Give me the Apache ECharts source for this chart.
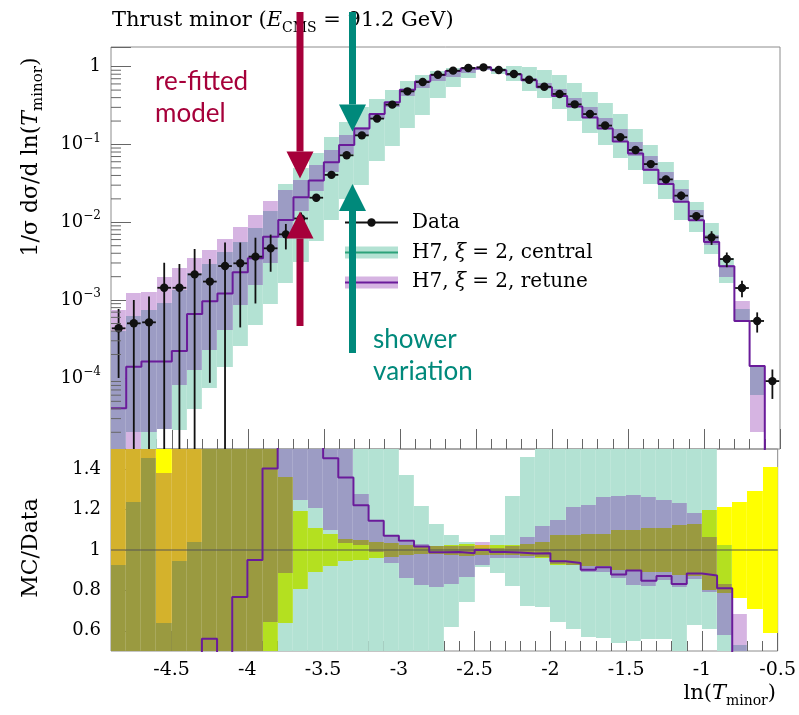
<!DOCTYPE html>
<html>
<head>
<meta charset="utf-8">
<title>Thrust minor</title>
<script src="https://cdn.jsdelivr.net/npm/echarts@6.0.0/dist/echarts.min.js"></script>
<style>
  html, body { margin: 0; padding: 0; background: #fff; }
  #chart { width: 799px; height: 715px; }
</style>
</head>
<body>
<div id="chart"></div>
<script>
// bins of ln(T_minor)
var binEdges = [-4.9, -4.8, -4.7, -4.6, -4.5, -4.4, -4.3, -4.2, -4.1, -4.0, -3.9, -3.8, -3.7, -3.6, -3.5,
  -3.4, -3.3, -3.2, -3.1, -3.0, -2.9, -2.8, -2.7, -2.6, -2.5, -2.4, -2.3, -2.2, -2.1, -2.0, -1.9, -1.8,
  -1.7, -1.6, -1.5, -1.4, -1.3, -1.2, -1.1, -1.0, -0.9, -0.8, -0.7, -0.6, -0.5]

// measured distribution and its relative uncertainty
var data = [4.34e-4, 5.03e-4, 5.18e-4, 1.44e-3, 1.44e-3, 2.14e-3, 1.73e-3, 2.74e-3, 2.97e-3, 3.62e-3,
  4.63e-3, 7.0e-3, 1.12e-2, 2.07e-2, 4.07e-2, 7.26e-2, 0.131, 0.215, 0.325, 0.482,
  0.635, 0.789, 0.889, 0.962, 0.98, 0.907, 0.805, 0.68, 0.553, 0.446,
  0.328, 0.246, 0.175, 0.124, 0.085, 0.056, 0.0356, 0.022, 0.012, 6.4e-3,
  3.37e-3, 1.43e-3, 5.39e-4, 9.1e-5]
var dataErr = [0.77, 1.0, 1.14, 1.1, 1.02, 1.12, 0.95, 1.0, 0.85, 0.75,
  0.5, 0.36, 0.195, 0.107, 0.078, 0.055, 0.048, 0.04, 0.033, 0.025,
  0.02, 0.018, 0.025, 0.03, 0.025, 0.025, 0.025, 0.03, 0.04, 0.074,
  0.074, 0.077, 0.08, 0.1, 0.1, 0.107, 0.11, 0.124, 0.13, 0.2,
  0.214, 0.24, 0.29, 0.41]

// H7, xi = 2, retune (line + band)
var retune = [4.07e-5, 1.39e-4, 1.62e-4, 1.62e-4, 2.22e-4, 6.62e-4, 9.69e-4, 1.22e-3, 2.28e-3, 3.44e-3,
  6.5e-3, 1.07e-2, 2.1e-2, 3.45e-2, 5.92e-2, 9.87e-2, 0.16, 0.246, 0.348, 0.504,
  0.646, 0.78, 0.88, 0.946, 0.98, 0.898, 0.795, 0.668, 0.544, 0.421,
  0.307, 0.222, 0.16, 0.109, 0.0764, 0.0475, 0.031, 0.0183, 0.0106, 5.59e-3,
  2.73e-3, 5.39e-4, 1.42e-4, 0]
var retuneLo = [1e-6, 1e-6, 2.0e-5, 2.2e-5, 8.1e-5, 1.26e-4, 2.3e-4, 4.1e-4, 8.6e-4, 1.57e-3,
  2.99e-3, 6.2e-3, 1.4e-2, 2.5e-2, 4.47e-2, 7.5e-2, 0.134, 0.213, 0.304, 0.415,
  0.525, 0.645, 0.738, 0.835, 0.907, 0.871, 0.773, 0.653, 0.534, 0.415,
  0.303, 0.219, 0.156, 0.107, 0.0703, 0.0461, 0.0303, 0.018, 0.0103, 5.06e-3,
  1.96e-3, 5.39e-4, 2.0e-5, 0]
var retuneHi = [7.46e-4, 1.22e-3, 1.28e-3, 1.99e-3, 2.56e-3, 3.44e-3, 4.4e-3, 6.04e-3, 8.6e-3, 1.24e-2,
  1.9e-2, 2.6e-2, 3.47e-2, 5.38e-2, 8.55e-2, 0.131, 0.167, 0.247, 0.348, 0.501,
  0.654, 0.805, 0.907, 0.981, 1.02, 0.916, 0.821, 0.725, 0.619, 0.512,
  0.398, 0.301, 0.221, 0.157, 0.108, 0.0708, 0.0445, 0.0271, 0.0142, 6.82e-3,
  2.8e-3, 9.8e-4, 1.42e-4, 0]

// H7, xi = 2, central (shower variation band)
var centralLo = [1e-6, 2.0e-5, 1e-6, 2.2e-5, 2.14e-5, 3.98e-5, 7.4e-5, 1.38e-4, 2.57e-4, 4.78e-4,
  8.9e-4, 1.66e-3, 3.09e-3, 5.75e-3, 1.07e-2, 1.99e-2, 0.0304, 0.0611, 0.0956, 0.163,
  0.24, 0.396, 0.551, 0.716, 0.899, 0.803, 0.66, 0.49, 0.398, 0.288,
  0.2, 0.14, 0.0989, 0.067, 0.0468, 0.0314, 0.0199, 0.0106, 7.56e-3, 3.9e-3,
  1.65e-3, 5.39e-4, 6.0e-5, 0]
var centralHi = [4.02e-4, 6.23e-4, 7.53e-4, 9.22e-4, 1.36e-3, 2.23e-3, 2.94e-3, 4.11e-3, 5.64e-3, 8.33e-3,
  1.39e-2, 0.031, 0.0499, 0.0785, 0.125, 0.196, 0.306, 0.384, 0.502, 0.66,
  0.773, 0.889, 0.955, 1.0, 0.99, 0.974, 1.02, 0.994, 0.907, 0.78,
  0.623, 0.477, 0.345, 0.244, 0.157, 0.0986, 0.059, 0.035, 0.0184, 9.9e-3,
  3.45e-3, 7.6e-4, 1.42e-4, 0]

// ticks
var xMajor = [-4.5, -4, -3.5, -3, -2.5, -2, -1.5, -1, -0.5]
var ratioLabels = [0.6, 0.8, 1, 1.2, 1.4]
var xMinor = []
for (var k = -48; k <= -6; k++) xMinor.push(k / 10)
var ratioMinor = []
for (var k = 11; k <= 29; k++) ratioMinor.push(k / 20)
var logMinor = []
for (var n = -5; n <= -1; n++) for (var m = 2; m <= 9; m++) logMinor.push(m * Math.pow(10, n))

var serif = 'DejaVu Serif'
var purple = '#6a1b9a'
var green = '#2ca27a'
var teal = '#00897b'
var crimson = '#a6003a'
var tickColor = '#666'
var yMin = 1.22e-5, yMax = 1.79

// fill colours by which bands overlap: 1 central, 2 retune, 4 data uncertainty
var maskColors = { 1: '#b3e2d3', 2: '#d6b4e2', 3: '#9c9cc4', 4: '#ffff00', 5: '#b4e020', 6: '#d4b22c', 7: '#9a9a40' }

var chart = echarts.init(document.getElementById('chart'))

// one custom series drawing overlapping bands bin by bin
function layeredSeries(xi, yi, layers, floor) {
  var items = []
  for (var i = 0; i < data.length; i++) {
    var row = [binEdges[i], binEdges[i + 1]]
    layers.forEach(function (L) {
      var lo = L.lo[i], hi = L.hi[i]
      if (!(hi > lo) || !(hi > 0)) { lo = 1; hi = 1 }
      row.push(lo, hi)
    })
    items.push(row)
  }
  return {
    type: 'custom', xAxisIndex: xi, yAxisIndex: yi, clip: true, silent: true, z: 2,
    data: items,
    encode: { x: [0, 1], y: [2] },
    renderItem: function (params, api) {
      var x0 = Math.round(api.coord([api.value(0), 1])[0])
      var x1 = Math.round(api.coord([api.value(1), 1])[0])
      var ints = [], ys = []
      for (var j = 0; j < layers.length; j++) {
        var lo = api.value(2 + 2 * j), hi = api.value(3 + 2 * j)
        if (!(hi > lo)) continue
        var a = Math.round(api.coord([api.value(0), Math.max(lo, floor)])[1])
        var b = Math.round(api.coord([api.value(0), hi])[1])
        ints.push([b, a, layers[j].bit])
        ys.push(a, b)
      }
      ys.sort(function (p, q) { return p - q })
      var children = []
      for (var k = 0; k < ys.length - 1; k++) {
        var ya = ys[k], yb = ys[k + 1]
        if (yb - ya < 0.5) continue
        var mid = (ya + yb) / 2, mask = 0
        ints.forEach(function (t) { if (mid > t[0] && mid < t[1]) mask |= t[2] })
        if (!mask) continue
        // a faint seam is left between neighbouring bins, as in the original
        children.push({ type: 'rect', shape: { x: x0, y: ya, width: x1 - x0 - 0.15, height: yb - ya }, style: { fill: maskColors[mask] } })
      }
      return { type: 'group', children: children }
    }
  }
}

function stepPoints(vals, div, floor) {
  var pts = []
  for (var i = 0; i < vals.length; i++) {
    var v = div ? vals[i] / div[i] : vals[i]
    if (floor && !(v > 0)) v = floor
    pts.push([binEdges[i], v])
  }
  pts.push([binEdges[vals.length], pts[pts.length - 1][1]])
  return pts
}

function divide(arr) { return arr.map(function (v, i) { return v / data[i] }) }

var centers = data.map(function (d, i) { return (binEdges[i] + binEdges[i + 1]) / 2 })
var yellowLo = dataErr.map(function (e) { return 1 - e })
var yellowHi = dataErr.map(function (e) { return 1 + e })

var series = [
  layeredSeries(0, 0, [
    { lo: centralLo, hi: centralHi, bit: 1 },
    { lo: retuneLo, hi: retuneHi, bit: 2 }
  ], 1e-9),
  {
    type: 'line', xAxisIndex: 0, yAxisIndex: 0, step: 'end', symbol: 'none', silent: true, z: 4,
    data: stepPoints(retune, null, 1e-9),
    lineStyle: { color: purple, width: 2 }
  },
  {
    type: 'custom', xAxisIndex: 0, yAxisIndex: 0, clip: true, silent: true, z: 5,
    data: centers.map(function (x, i) { return [x, data[i], dataErr[i]] }),
    renderItem: function (params, api) {
      var x = api.value(0), v = api.value(1), e = api.value(2)
      var p = api.coord([x, v])
      var up = api.coord([x, v * (1 + e)])
      var dn = api.coord([x, Math.max(v * (1 - e), 1e-9)])
      var l = api.coord([x - 0.045, v]), r = api.coord([x + 0.045, v])
      return { type: 'group', children: [
        { type: 'line', shape: { x1: p[0], y1: up[1], x2: p[0], y2: dn[1] }, style: { stroke: '#111', lineWidth: 1.8 } },
        { type: 'line', shape: { x1: l[0], y1: p[1], x2: r[0], y2: p[1] }, style: { stroke: '#111', lineWidth: 1.8 } },
        { type: 'circle', shape: { cx: p[0], cy: p[1], r: 4.2 }, style: { fill: '#111' } }
      ] }
    }
  },
  {
    // minor ticks of the log axis
    type: 'custom', xAxisIndex: 0, yAxisIndex: 0, silent: true, z: 6,
    data: logMinor.map(function (v) { return [-4.9, v] }),
    renderItem: function (params, api) {
      var p = api.coord([api.value(0), api.value(1)])
      return { type: 'line', shape: { x1: p[0], y1: p[1], x2: p[0] + 10, y2: p[1] }, style: { stroke: tickColor, lineWidth: 1 } }
    }
  },
  // ratio panel
  layeredSeries(2, 1, [
    { lo: yellowLo, hi: yellowHi, bit: 4 },
    { lo: divide(centralLo), hi: divide(centralHi), bit: 1 },
    { lo: divide(retuneLo), hi: divide(retuneHi), bit: 2 }
  ], -10),
  {
    type: 'line', xAxisIndex: 2, yAxisIndex: 1, symbol: 'none', silent: true, z: 4,
    data: [[binEdges[0], 1], [binEdges[binEdges.length - 1], 1]],
    lineStyle: { color: '#555', width: 1 }
  },
  {
    type: 'line', xAxisIndex: 2, yAxisIndex: 1, step: 'end', symbol: 'none', silent: true, z: 5,
    data: stepPoints(retune, data),
    lineStyle: { color: purple, width: 2 }
  }
]

function xAxisDef(grid, values, len, labels) {
  return {
    gridIndex: grid, type: 'value', min: -4.9, max: -0.5, position: 'bottom',
    axisLine: { show: false }, splitLine: { show: false },
    axisTick: { inside: true, length: len, customValues: values, lineStyle: { color: tickColor } },
    axisLabel: labels ? { show: true, customValues: values, margin: 10, color: '#000', fontFamily: serif, fontSize: 19 } : { show: false }
  }
}

var supRich = {
  b: { fontFamily: serif, fontSize: 18, lineHeight: 24, color: '#000' },
  s: { fontFamily: serif, fontSize: 12, lineHeight: 12, verticalAlign: 'top', color: '#000' }
}

var option = {
  animation: false,
  backgroundColor: '#fff',
  grid: [
    { left: 111, top: 47, width: 669, height: 402, show: true, borderColor: '#8c8c8c', borderWidth: 1 },
    { left: 111, top: 449, width: 669, height: 202, show: true, borderColor: '#8c8c8c', borderWidth: 1 }
  ],
  xAxis: [
    xAxisDef(0, xMajor, 20, false),
    xAxisDef(0, xMinor, 10, false),
    xAxisDef(1, xMajor, 20, true),
    xAxisDef(1, xMinor, 10, false)
  ],
  yAxis: [
    {
      gridIndex: 0, type: 'log', logBase: 10, min: yMin, max: yMax, position: 'left',
      axisLine: { show: false }, splitLine: { show: false },
      axisTick: { inside: true, length: 20, lineStyle: { color: tickColor } },
      axisLabel: {
        margin: 10, rich: supRich,
        formatter: function (v) {
          var e = Math.log10(v), r = Math.round(e)
          if (Math.abs(e - r) > 1e-6) return ''
          return r === 0 ? '{b|1}' : '{b|10}{s|\u2212' + (-r) + '}'
        }
      }
    },
    {
      gridIndex: 1, type: 'value', min: 0.5, max: 1.5, position: 'left',
      axisLine: { show: false }, splitLine: { show: false },
      axisTick: { inside: true, length: 20, customValues: ratioLabels, lineStyle: { color: tickColor } },
      axisLabel: { customValues: ratioLabels, margin: 10, color: '#000', fontFamily: serif, fontSize: 18 }
    },
    {
      gridIndex: 1, type: 'value', min: 0.5, max: 1.5, position: 'left',
      axisLine: { show: false }, splitLine: { show: false },
      axisTick: { inside: true, length: 10, customValues: ratioMinor, lineStyle: { color: tickColor } },
      axisLabel: { show: false }
    }
  ],
  series: series
}

// titles, legend and comments
var subRich = function (size) {
  return {
    a: { fontFamily: serif, fontSize: size, lineHeight: size + 8 },
    i: { fontFamily: serif, fontSize: size, lineHeight: size + 8, fontStyle: 'italic' },
    s: { fontFamily: serif, fontSize: Math.round(size * 0.68), lineHeight: Math.round(size * 0.68), verticalAlign: 'bottom' }
  }
}

function arrow(x, yTail, yTip, color) {
  var dir = yTip > yTail ? 1 : -1
  var yBase = yTip - dir * 27
  return [
    { type: 'rect', z: 100, shape: { x: x - 3.5, y: Math.min(yTail, yBase), width: 7, height: Math.abs(yBase - yTail) }, style: { fill: color } },
    { type: 'polygon', z: 100, shape: { points: [[x - 13.5, yBase], [x + 13.5, yBase], [x, yTip]] }, style: { fill: color } }
  ]
}

function txt(x, y, text, opts) {
  var st = { text: text, fill: opts.fill || '#000', fontFamily: opts.font || serif, fontSize: opts.size || 20,
    align: opts.align || 'left', verticalAlign: 'middle' }
  if (opts.rich) st.rich = opts.rich
  return { type: 'text', z: 90, x: x, y: y, rotation: opts.rot || 0, style: st }
}

var graphics = [
  txt(112, 21, '{a|Thrust minor (}{i|E}{s|CMS}{a| = 91.2 GeV)}', { size: 21, rich: subRich(21) }),
  txt(31, 157, '{a|1/\u03c3 d\u03c3/d ln(}{i|T}{s|minor}{a|)}', { size: 22, rich: subRich(22), align: 'center', rot: Math.PI / 2 }),
  txt(31, 548, 'MC/Data', { size: 22, align: 'center', rot: Math.PI / 2 }),
  txt(776, 694, '{a|ln(}{i|T}{s|minor}{a|)}', { size: 21, rich: subRich(21), align: 'right' }),
  // legend
  { type: 'line', z: 90, shape: { x1: 345, y1: 222.5, x2: 398, y2: 222.5 }, style: { stroke: '#111', lineWidth: 1.8 } },
  { type: 'circle', z: 90, shape: { cx: 371.5, cy: 222.5, r: 4.2 }, style: { fill: '#111' } },
  { type: 'rect', z: 90, shape: { x: 345, y: 246.5, width: 53, height: 12 }, style: { fill: maskColors[1] } },
  { type: 'line', z: 90, shape: { x1: 345, y1: 252.5, x2: 398, y2: 252.5 }, style: { stroke: green, lineWidth: 2 } },
  { type: 'rect', z: 90, shape: { x: 345, y: 276.5, width: 53, height: 12 }, style: { fill: maskColors[2] } },
  { type: 'line', z: 90, shape: { x1: 345, y1: 282.5, x2: 398, y2: 282.5 }, style: { stroke: purple, lineWidth: 2 } },
  txt(412, 223, 'Data', { size: 20 }),
  txt(412, 253, '{a|H7, }{i|\u03be}{a| = 2, central}', { size: 20, rich: subRich(20) }),
  txt(412, 282, '{a|H7, }{i|\u03be}{a| = 2, retune}', { size: 20, rich: subRich(20) }),
  txt(155, 82, 're-fitted', { font: 'Lato', size: 26, fill: crimson }),
  txt(155, 114, 'model', { font: 'Lato', size: 26, fill: crimson }),
  txt(373, 340, 'shower', { font: 'Lato', size: 26, fill: teal }),
  txt(373, 372, 'variation', { font: 'Lato', size: 26, fill: teal })
]
graphics = graphics.concat(arrow(300, 12, 178.5, crimson), arrow(300, 326, 211.5, crimson),
  arrow(352.5, 12, 131.5, teal), arrow(352.5, 353, 184, teal))
option.graphic = graphics

chart.setOption(option)
</script>
</body>
</html>
